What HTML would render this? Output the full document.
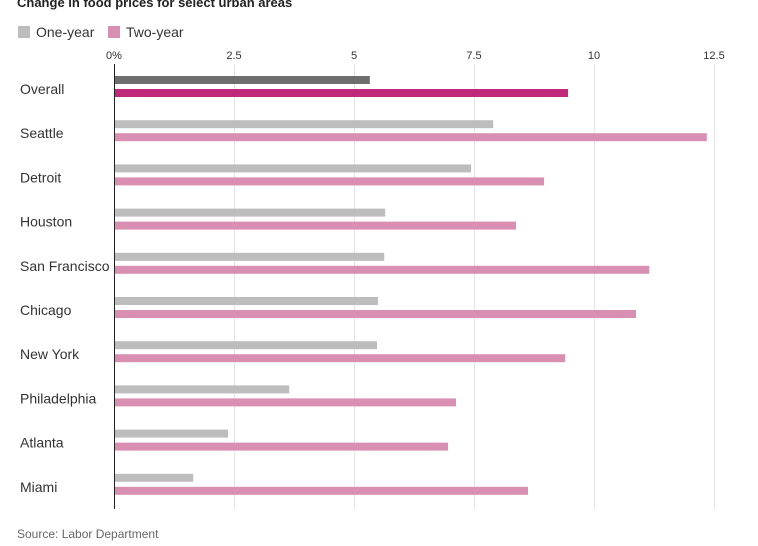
<!DOCTYPE html>
<html><head><meta charset="utf-8"><style>
body{margin:0;background:#fff;font-family:"Liberation Sans",sans-serif;}
svg text{font-family:"Liberation Sans",sans-serif;}
</style></head><body>
<svg width="758" height="541" xmlns="http://www.w3.org/2000/svg">
<text x="17" y="7" font-size="13" font-weight="bold" fill="#222">Change in food prices for select urban areas</text>
<g>
<rect x="18" y="26" width="12" height="12" fill="#bdbdbd"/>
<text x="36" y="37" font-size="14" fill="#333">One-year</text>
<rect x="108" y="26" width="12" height="12" fill="#d98fb1"/>
<text x="126" y="37" font-size="14" fill="#333">Two-year</text>
</g>
<g id="grid"></g>
<g id="bars"></g>
<g id="labels"></g>
<line x1="114.5" y1="64" x2="114.5" y2="509" stroke="#222" stroke-width="1"/>
<text x="17" y="538" font-size="12" fill="#666">Source: Labor Department</text>
</svg>
<script>
const categories=["Overall","Seattle","Detroit","Houston","San Francisco","Chicago","New York","Philadelphia","Atlanta","Miami"];
const oneYear=[5.33,7.9,7.44,5.65,5.63,5.5,5.48,3.65,2.375,1.65];
const twoYear=[9.46,12.35,8.96,8.375,11.15,10.875,9.4,7.125,6.96,8.625];
const ticks=[0,2.5,5,7.5,10,12.5];
const tickLabels=["0%","2.5","5","7.5","10","12.5"];
const NS="http://www.w3.org/2000/svg";
const x=v=>114+v*48;
const rowY=i=>76+i*44.2;
function mk(t,a){const e=document.createElementNS(NS,t);for(const k in a)e.setAttribute(k,a[k]);return e;}
const grid=document.getElementById('grid'),bars=document.getElementById('bars'),labels=document.getElementById('labels');
ticks.forEach((t,i)=>{
 if(i>0){const l=mk('line',{x1:x(t)+0.5,y1:64,x2:x(t)+0.5,y2:509,stroke:'#e4e4e4','stroke-width':1});
 
 
 grid.appendChild(l);}
 const tx=mk('text',{x:x(t),y:59,'font-size':11,fill:'#333','text-anchor':'middle'});
 tx.textContent=tickLabels[i];
 
 
 grid.appendChild(tx);
});
categories.forEach((c,i)=>{
 const y=rowY(i);
 const b1=mk('rect',{x:x(0),y:y,width:x(oneYear[i])-x(0),height:8,fill:i==0?'#6e6e6e':'#bdbdbd'});
 
 
 bars.appendChild(b1);
 const b2=mk('rect',{x:x(0),y:y+13,width:x(twoYear[i])-x(0),height:8,fill:i==0?'#c0287a':'#d98fb1'});
 
 
 bars.appendChild(b2);
 const t=mk('text',{x:20,y:y+18,'font-size':14,fill:'#333'});
 t.textContent=c;
 
 
 labels.appendChild(t);
});
</script>
</body></html>
